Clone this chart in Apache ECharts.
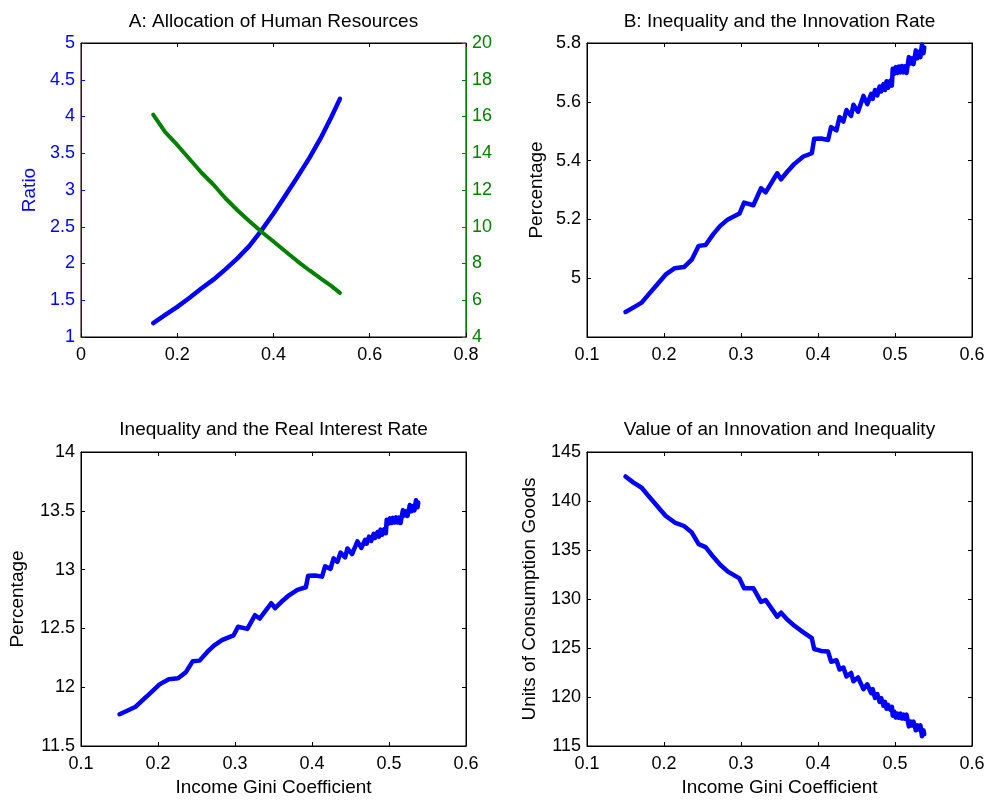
<!DOCTYPE html>
<html><head><meta charset="utf-8">
<script src="https://cdn.jsdelivr.net/npm/echarts@6/dist/echarts.min.js"></script>
<style>html,body{margin:0;padding:0;background:#fff}#c{width:988px;height:802px}</style>
</head><body><div id="c"></div>
<script>
// Panel A: allocation of human resources
const giniA  = [0.150,0.175,0.200,0.225,0.250,0.275,0.300,0.325,0.350,0.375,0.400,0.425,0.450,0.475,0.500,0.520,0.538];
const ratioA = [1.19,1.30,1.41,1.53,1.66,1.78,1.92,2.07,2.24,2.45,2.68,2.93,3.18,3.44,3.73,3.99,4.24];
const rightA = [16.1,15.15,14.45,13.7,12.95,12.3,11.55,10.9,10.3,9.73,9.2,8.65,8.12,7.62,7.15,6.78,6.4];

// Panels B, C, D share the Gini grid
const gini = [0.150,0.160,0.171,0.180,0.190,0.202,0.214,0.226,0.236,0.245,0.254,0.264,0.273,0.283,0.298,0.304,0.316,0.326,0.332,0.347,
  0.352,0.360,0.369,0.381,0.392,0.395,0.404,0.413,0.417,0.424,0.428,0.433,0.437,0.443,0.446,0.452,0.459,0.464,0.469,0.471,
  0.474,0.477,0.480,0.482,0.485,0.487,0.489,0.491,0.494,0.496,0.497,0.499,0.501,0.503,0.505,0.507,0.509,0.511,0.513,0.515,
  0.518,0.520,0.522,0.524,0.527,0.529,0.531,0.533,0.535,0.537,0.538];
const innovationRate = [4.885,4.900,4.917,4.945,4.975,5.012,5.034,5.038,5.063,5.110,5.113,5.150,5.178,5.200,5.220,5.257,5.248,5.306,5.292,5.357,
  5.336,5.362,5.388,5.414,5.425,5.474,5.475,5.470,5.514,5.503,5.548,5.533,5.572,5.552,5.590,5.566,5.620,5.592,5.627,5.610,
  5.640,5.622,5.652,5.635,5.660,5.640,5.670,5.648,5.672,5.655,5.712,5.695,5.718,5.698,5.720,5.700,5.722,5.700,5.721,5.698,
  5.752,5.730,5.748,5.728,5.775,5.748,5.770,5.752,5.795,5.765,5.785];
const interestRate = [11.77,11.80,11.834,11.89,11.95,12.024,12.068,12.076,12.126,12.22,12.226,12.30,12.356,12.40,12.44,12.514,12.496,12.612,12.584,12.714,
  12.672,12.724,12.776,12.828,12.85,12.948,12.95,12.94,13.028,13.006,13.096,13.066,13.144,13.104,13.18,13.132,13.24,13.184,13.254,13.22,
  13.28,13.244,13.304,13.27,13.32,13.28,13.34,13.296,13.344,13.31,13.424,13.39,13.436,13.396,13.44,13.40,13.444,13.40,13.442,13.396,
  13.504,13.46,13.496,13.456,13.55,13.496,13.54,13.504,13.59,13.53,13.57];
const innovationValue = [142.5,141.9,141.35,140.5,139.6,138.5,137.8,137.45,136.8,135.6,135.3,134.3,133.5,132.8,132.1,131.1,131.1,129.7,129.9,128.2,
  128.6,127.9,127.3,126.6,126.0,124.9,124.7,124.65,123.6,123.75,122.8,123.0,122.1,122.45,121.6,122.0,120.8,121.3,120.4,120.8,
  119.9,120.3,119.5,119.9,119.1,119.5,118.8,119.2,118.7,119.0,118.1,118.5,117.9,118.3,117.9,118.3,117.8,118.2,117.8,118.2,
  117.0,117.5,117.1,117.5,116.6,117.1,116.7,117.1,116.0,116.6,116.2];

const titles = ['A: Allocation of Human Resources','B: Inequality and the Innovation Rate','Inequality and the Real Interest Rate','Value of an Innovation and Inequality'];
const xName = 'Income Gini Coefficient';

const FONT = '"Liberation Sans", Arial, Helvetica, sans-serif';
const BLUE = '#0000ff', GREEN = '#008000';
const pairs = (xs, ys) => xs.map((x, i) => [x, ys[i]]);

const grids = [
  {left:81, top:43, width:385, height:294},
  {left:587, top:43, width:385, height:294},
  {left:81, top:452, width:385, height:294},
  {left:587, top:452, width:385, height:294}
].map(g => Object.assign({show:true, borderColor:'#000', borderWidth:1, backgroundColor:'transparent'}, g));

const xCfg = [
  {min:0, max:0.8, interval:0.2, name:''},
  {min:0.1, max:0.6, interval:0.1, name:''},
  {min:0.1, max:0.6, interval:0.1, name:xName},
  {min:0.1, max:0.6, interval:0.1, name:xName}
];
const yCfg = [
  {min:1, max:5, interval:0.5, name:'Ratio', gap:42, color:BLUE},
  {min:4.8, max:5.8, interval:0.2, name:'Percentage', gap:41, color:'#000', hideMin:true},
  {min:11.5, max:14, interval:0.5, name:'Percentage', gap:54, color:'#000'},
  {min:115, max:145, interval:5, name:'Units of Consumption Goods', gap:48, color:'#000'}
];

const xAxis = [], yAxis = [];
xCfg.forEach((c, i) => {
  xAxis.push({type:'value', gridIndex:i, min:c.min, max:c.max, interval:c.interval, position:'bottom',
    name:c.name, nameLocation:'middle', nameGap:32, nameTextStyle:{fontSize:19, color:'#000', fontFamily:FONT},
    axisLine:{show:true, onZero:false, lineStyle:{color:'#000', width:1}},
    axisTick:{show:true, inside:true, length:4, lineStyle:{color:'#000'}},
    axisLabel:{show:true, margin:9, fontSize:18, color:'#000', fontFamily:FONT},
    splitLine:{show:false}});
  xAxis.push({type:'value', gridIndex:i, min:c.min, max:c.max, interval:c.interval, position:'top',
    axisLine:{show:true, onZero:false, lineStyle:{color:'#000', width:1}},
    axisTick:{show:true, inside:true, length:4, lineStyle:{color:'#000'}},
    axisLabel:{show:false}, splitLine:{show:false}});
});
yCfg.forEach((c, i) => {
  yAxis.push({type:'value', gridIndex:i, min:c.min, max:c.max, interval:c.interval, position:'left',
    name:c.name, nameLocation:'middle', nameGap:c.gap, nameRotate:90,
    nameTextStyle:{fontSize:19, color:c.color, fontFamily:FONT},
    axisLine:{show:true, onZero:false, lineStyle:{color:c.color, width:1}},
    axisTick:{show:true, inside:true, length:4, lineStyle:{color:c.color}},
    axisLabel:{show:true, margin:6, fontSize:18, color:c.color, fontFamily:FONT, showMinLabel: !c.hideMin},
    splitLine:{show:false}});
  if (i === 0) {
    yAxis.push({type:'value', gridIndex:i, min:4, max:20, interval:2, position:'right',
      axisLine:{show:true, onZero:false, lineStyle:{color:GREEN, width:1}},
      axisTick:{show:true, inside:true, length:4, lineStyle:{color:GREEN}},
      axisLabel:{show:true, margin:6, fontSize:18, color:GREEN, fontFamily:FONT},
      splitLine:{show:false}});
  } else {
    yAxis.push({type:'value', gridIndex:i, min:c.min, max:c.max, interval:c.interval, position:'right',
      axisLine:{show:true, onZero:false, lineStyle:{color:'#000', width:1}},
      axisTick:{show:true, inside:true, length:4, lineStyle:{color:'#000'}},
      axisLabel:{show:false}, splitLine:{show:false}});
  }
});

const lineSeries = (xi, yi, data, color, w) => ({type:'line', xAxisIndex:xi, yAxisIndex:yi, data:data,
  showSymbol:false, symbol:'none', smooth:false, clip:false,
  lineStyle:{color:color, width:w, join:'round', cap:'round'}});

const series = [
  lineSeries(0, 0, pairs(giniA, ratioA), BLUE, 4.5),
  lineSeries(0, 1, pairs(giniA, rightA), GREEN, 4),
  lineSeries(2, 2, pairs(gini, innovationRate), BLUE, 4.5),
  lineSeries(4, 4, pairs(gini, interestRate), BLUE, 4.5),
  lineSeries(6, 6, pairs(gini, innovationValue), BLUE, 4.5)
];

const titlePos = [[273.5, 22], [779.5, 22], [273.5, 430], [779.5, 430]];
const graphic = titles.map((t, i) => ({type:'text', x:titlePos[i][0], y:titlePos[i][1],
  style:{text:t, fontSize:19, fontFamily:FONT, fill:'#000', textAlign:'center', textVerticalAlign:'middle'}}));

const chart = echarts.init(document.getElementById('c'), null, {renderer:'canvas'});
chart.setOption({animation:false, backgroundColor:'#fff', textStyle:{fontFamily:FONT},
  grid:grids, xAxis:xAxis, yAxis:yAxis, series:series, graphic:graphic});
</script></body></html>
